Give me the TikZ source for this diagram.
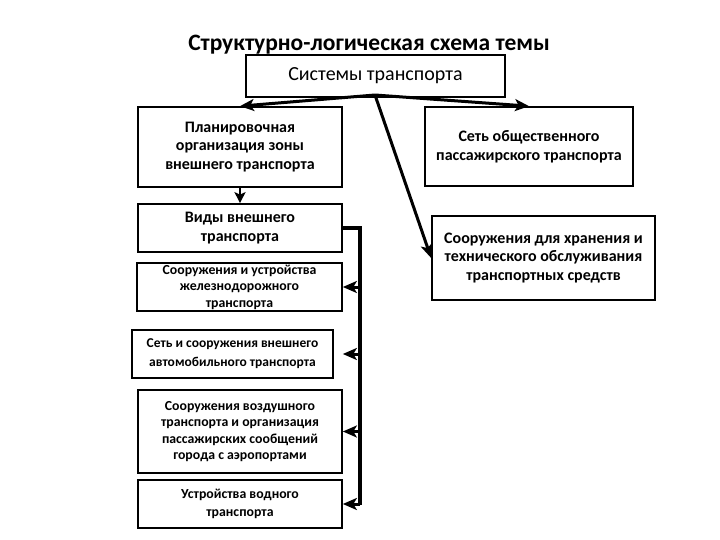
\documentclass[tikz,border=0pt]{standalone}
\usepackage{fontspec}
\setmainfont{Carlito}
\usetikzlibrary{arrows.meta,calc}
\begin{document}
\begin{tikzpicture}[x=1pt,y=-1pt,
  box/.style={draw=black,line width=1.7pt,align=center,inner sep=1pt,font=\bfseries\fontsize{16}{18.5}\selectfont},
  smallbox/.style={box,font=\bfseries\fontsize{13.8}{16.5}\selectfont},
  arr/.style={line width=3pt,-{Stealth[length=14pt,width=12pt,inset=3.5pt]}},
  bar/.style={line width=3.3pt}]
\useasboundingbox (0,0) rectangle (720,540);
\fill[white] (0,0) rectangle (720,540);
\node (title) at (369,45) {\bfseries\fontsize{23.5}{26}\selectfont Структурно-логическая схема темы};
\node[box,minimum width=259pt,minimum height=42pt,font=\fontsize{20}{22}\selectfont] (top) at (375.5,76) {Системы транспорта};
\node[box,minimum width=204pt,minimum height=80pt] (b1) at (240,147) {Планировочная\\организация зоны\\внешнего транспорта};
\node[box,minimum width=204pt,minimum height=48pt] (b2) at (240,228) {Виды внешнего\\транспорта};
\node[smallbox,minimum width=205pt,minimum height=48pt] (b3) at (239.5,287) {Сооружения и устройства\\железнодорожного\\транспорта};
\node[smallbox,minimum width=201pt,minimum height=48pt,font=\bfseries\fontsize{13.5}{19}\selectfont] (b4) at (232.5,354) {Сеть и сооружения внешнего\\автомобильного транспорта};
\node[smallbox,minimum width=204pt,minimum height=83pt] (b5) at (240,431.5) {Сооружения воздушного\\транспорта и организация\\пассажирских сообщений\\города с аэропортами};
\node[smallbox,minimum width=204pt,minimum height=48pt,font=\bfseries\fontsize{13.8}{17.5}\selectfont] (b6) at (240,504) {Устройства водного\\транспорта};
\node[box,minimum width=208pt,minimum height=79pt] (r1) at (529,146.5) {Сеть общественного\\пассажирского транспорта};
\node[box,minimum width=223pt,minimum height=84pt] (r2) at (543.5,258) {Сооружения для хранения и\\технического обслуживания\\транспортных средств};
\coordinate (o) at (375,95);
\coordinate (bt) at (360,228);
\coordinate (bb) at (360,505);
\draw[arr] (o) -- (b1.north);
\draw[arr] (o) -- (r1.north);
\draw[arr] (o) -- (r2.west);
\draw[arr,line width=2.6pt,-{Stealth[length=11pt,width=11pt,inset=2.5pt]}] (b1.south) -- (b2.north);
\draw[bar] (b2.east) -- (bt) -- (bb);
\draw[arr] (bt |- b3.east) -- (b3.east);
\draw[arr,shorten >=9pt] (bt |- b4.east) -- (b4.east);
\draw[arr] (bt |- b5.east) -- (b5.east);
\draw[arr] (bt |- b6.east) -- (b6.east);
\end{tikzpicture}
\end{document}
